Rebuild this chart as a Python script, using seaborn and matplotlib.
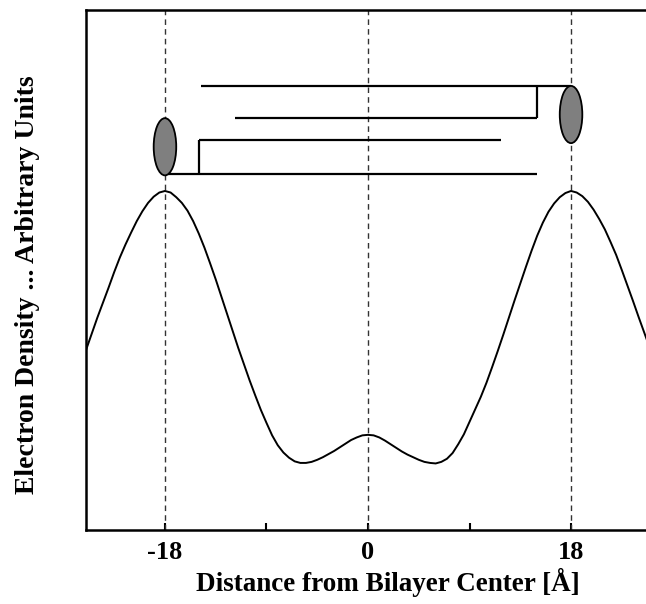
import matplotlib
matplotlib.use("Agg")
import matplotlib.pyplot as plt
from matplotlib.patches import Ellipse
import seaborn as sns
import pandas as pd

# Electron density profile across the bilayer (arbitrary units), sampled every 0.5 Å
distance = [-25.0, -24.5, -24.0, -23.5, -23.0, -22.5, -22.0, -21.5, -21.0, -20.5,
            -20.0, -19.5, -19.0, -18.5, -18.0, -17.5, -17.0, -16.5, -16.0, -15.5,
            -15.0, -14.5, -14.0, -13.5, -13.0, -12.5, -12.0, -11.5, -11.0, -10.5,
            -10.0, -9.5, -9.0, -8.5, -8.0, -7.5, -7.0, -6.5, -6.0, -5.5,
            -5.0, -4.5, -4.0, -3.5, -3.0, -2.5, -2.0, -1.5, -1.0, -0.5,
            0.0, 0.5, 1.0, 1.5, 2.0, 2.5, 3.0, 3.5, 4.0, 4.5,
            5.0, 5.5, 6.0, 6.5, 7.0, 7.5, 8.0, 8.5, 9.0, 9.5,
            10.0, 10.5, 11.0, 11.5, 12.0, 12.5, 13.0, 13.5, 14.0, 14.5,
            15.0, 15.5, 16.0, 16.5, 17.0, 17.5, 18.0, 18.5, 19.0, 19.5,
            20.0, 20.5, 21.0, 21.5, 22.0, 22.5, 23.0, 23.5, 24.0, 24.5, 25.0]
density = [34.6, 37.7, 40.8, 43.7, 46.6, 49.6, 52.4, 54.9, 57.2, 59.4,
           61.3, 62.9, 64.1, 64.9, 65.2, 64.9, 64.0, 62.9, 61.4, 59.4,
           57.0, 54.3, 51.3, 48.2, 44.9, 41.6, 38.3, 35.0, 31.9, 28.8,
           25.9, 23.1, 20.6, 18.2, 16.3, 14.9, 13.9, 13.2, 12.9, 12.9,
           13.1, 13.5, 14.0, 14.6, 15.2, 15.9, 16.6, 17.3, 17.8, 18.2,
           18.3, 18.2, 17.8, 17.2, 16.5, 15.8, 15.1, 14.5, 14.0, 13.5,
           13.1, 12.9, 12.8, 13.1, 13.7, 14.8, 16.5, 18.4, 20.8, 23.2,
           25.6, 28.3, 31.3, 34.4, 37.6, 40.9, 44.2, 47.4, 50.6, 53.7,
           56.6, 59.1, 61.2, 62.8, 64.0, 64.8, 65.2, 64.9, 64.2, 63.1,
           61.6, 59.8, 57.8, 55.4, 52.9, 50.0, 47.0, 44.0, 40.9, 37.9, 34.9]

# Reference positions (phosphate peaks and bilayer centre)
guide_positions = [-18, 0, 18]

# Bracket segments above the profile: x-start, x-end, level
bracket_x0 = [-14.8, -11.8, -15.0, -17.9]
bracket_x1 = [18.0, 15.0, 11.8, 15.0]
bracket_y = [85.4, 79.3, 75.0, 68.5]
# Vertical connectors: x, y-bottom, y-top
connector_x = [15.0, -15.0]
connector_y0 = [79.3, 68.5]
connector_y1 = [85.4, 75.0]

# Head-group markers: x, y-centre
head_x = [-18, 18]
head_y = [73.7, 79.9]

tick_positions = [-18, 0, 18]
tick_labels = ["-18", "0", "18"]
minor_positions = [-9, 9]

sns.set_theme(style="white")
plt.rcParams["font.family"] = ["Liberation Serif", "DejaVu Serif"]
plt.rcParams["text.color"] = "black"
plt.rcParams["axes.labelcolor"] = "black"
plt.rcParams["xtick.color"] = "black"

fig = plt.figure(figsize=(6.46, 6.04), dpi=100)
ax = fig.add_axes([86 / 646, 74 / 604, 564 / 646, 520 / 604])

df = pd.DataFrame({"distance": distance, "density": density})
sns.lineplot(data=df, x="distance", y="density", ax=ax, color="black",
             linewidth=1.4, sort=False, zorder=3)

for xp in guide_positions:
    ax.axvline(xp, color="#333333", linewidth=1.0, linestyle=(0, (4, 3)), zorder=1)

for x0, x1, yv in zip(bracket_x0, bracket_x1, bracket_y):
    ax.plot([x0, x1], [yv, yv], color="black", linewidth=1.6, solid_capstyle="butt", zorder=3)
for xc, y0, y1 in zip(connector_x, connector_y0, connector_y1):
    ax.plot([xc, xc], [y0, y1], color="black", linewidth=1.6, solid_capstyle="butt", zorder=3)

for hx, hy in zip(head_x, head_y):
    ax.add_patch(Ellipse((hx, hy), width=2.0, height=11.0, facecolor="#7f7f7f",
                         edgecolor="black", linewidth=1.3, zorder=4))

ax.set_xlim(-25, 25)
ax.set_ylim(0, 100)
ax.set_xticks(tick_positions)
ax.set_xticklabels(tick_labels, fontsize=19, fontweight="bold", color="black")
ax.set_xticks(minor_positions, minor=True)
ax.set_yticks([])
ax.tick_params(axis="x", which="both", direction="in", length=5, width=1.5,
               bottom=True, top=False, pad=8, colors="black")
for side, spine in ax.spines.items():
    spine.set_color("black")
    spine.set_linewidth(1.8)

ax.set_xlabel("Distance from Bilayer Center [Å]", fontsize=19.5, fontweight="bold",
              color="black")
ax.set_ylabel("Electron Density ... Arbitrary Units", fontsize=20, fontweight="bold",
              color="black")
ax.xaxis.set_label_coords(0.535, -0.072)
ax.yaxis.set_label_coords(-0.082, 0.471)

fig.savefig("out.png", dpi=100, facecolor="white")
